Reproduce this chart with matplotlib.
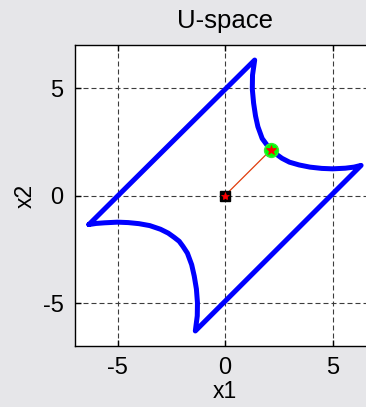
import matplotlib
matplotlib.use("Agg")
import matplotlib.pyplot as plt

plt.rcParams['font.family'] = ['Liberation Sans', 'DejaVu Sans']
plt.rcParams['axes.unicode_minus'] = False

# boundary of the U-space region, traced counter-clockwise from the left tip
ux = [-6.33, 1.38, 1.28, 1.27, 1.33, 1.42, 1.53, 1.73, 1.95, 2.13,
      2.36, 2.65, 3.00, 3.45, 3.95, 4.50, 5.00, 5.60, 6.00, 6.33,
      -1.38, -1.29, -1.28, -1.33, -1.43, -1.55, -1.75, -1.96, -2.13,
      -2.36, -2.64, -3.00, -3.50, -4.00, -4.50, -5.00, -5.60, -6.00, -6.33]
uy = [-1.35, 6.30, 5.60, 4.95, 4.30, 3.70, 3.20, 2.65, 2.35, 2.13,
      1.94, 1.73, 1.55, 1.42, 1.32, 1.26, 1.24, 1.27, 1.32, 1.40,
      -6.30, -5.60, -5.00, -4.35, -3.75, -3.22, -2.68, -2.36, -2.13,
      -1.95, -1.75, -1.57, -1.40, -1.31, -1.26, -1.24, -1.27, -1.30, -1.35]

origin = (0.0, 0.0)
u_point = (2.13, 2.12)

ticks = [-5, 0, 5]
lim = (-7, 7)

bg = '#e6e6e9'
fig = plt.figure(figsize=(3.66, 4.07), dpi=100, facecolor=bg)
ax = fig.add_axes([74.5 / 366, 61 / 407, 301 / 366, 301 / 407])
ax.set_facecolor('white')

ax.plot(ux, uy, color='#0000ff', lw=3.6, solid_joinstyle='round',
        solid_capstyle='round', zorder=3)
ax.plot([origin[0], u_point[0]], [origin[1], u_point[1]],
        color='#e03c0c', lw=0.9, zorder=4)

ax.plot(*origin, marker='s', ms=7, color='black', zorder=5)
ax.plot(*origin, marker='*', ms=6, color='red', mew=0.5, zorder=6)
ax.plot(*u_point, marker='o', ms=10, mfc='#00ff00', mec='#33ee33', zorder=5)
ax.plot(*u_point, marker='*', ms=7, color='red', mew=0.5, zorder=6)

ax.set_xlim(*lim)
ax.set_ylim(*lim)
ax.set_xticks(ticks)
ax.set_yticks(ticks)
ax.grid(True, color='#3c3c3c', lw=0.8, linestyle=(0, (4.5, 2.7)))
ax.set_axisbelow(True)

ax.tick_params(direction='in', length=4, width=1, top=True, right=True,
               labelsize=17, pad=8, colors='black')
for s in ax.spines.values():
    s.set_linewidth(1.0)
    s.set_color('black')

ax.set_title('U-space', fontsize=18.5, pad=12)
ax.set_xlabel('x1', fontsize=16.5, labelpad=1)
ax.set_ylabel('x2', fontsize=16.5, labelpad=4)

fig.savefig('out.png', dpi=100, facecolor=bg)
